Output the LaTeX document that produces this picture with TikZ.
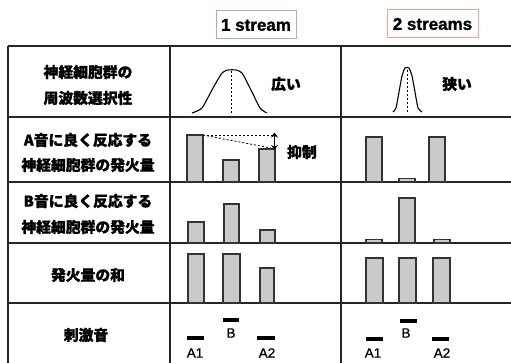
\documentclass[tikz,border=0pt]{standalone}
\usepackage{fontspec}
\setmainfont{Liberation Sans}[BoldFeatures={FakeBold=1.2}]
\newfontfamily\jp{Noto Sans CJK JP}[BoldFeatures={FakeBold=1}]
\newfontfamily\labfont{Liberation Sans}[FakeBold=0.8]
\usetikzlibrary{arrows.meta}
\definecolor{bluebox}{HTML}{8FB3F5}
\definecolor{redbox}{HTML}{F5A08A}
\definecolor{barfill}{HTML}{CACACA}
\definecolor{barline}{HTML}{333333}
\tikzset{
  grid/.style={line width=1.1pt, draw=black!85},
  jtext/.style={font=\jp\bfseries\fontsize{14.8}{16}\selectfont, inner sep=0pt, anchor=center},
  hdr/.style={font=\bfseries\fontsize{17}{19}\selectfont, inner xsep=2pt, inner ysep=3pt, line width=1pt},
  bar/.style={fill=barfill, draw=barline, line width=1.2pt},
  stim/.style={fill=black, draw=none},
  lab/.style={font=\labfont\fontsize{13.5}{14}\selectfont, inner sep=0pt},
  curve/.style={line width=1.1pt, black},
  mid/.style={line width=0.9pt, dash pattern=on 2pt off 2pt},
}
\begin{document}
\begin{tikzpicture}[x=1pt,y=-1pt]
\useasboundingbox (0,0) rectangle (511,363);
\fill[white] (0,0) rectangle (511,363);
% headers
\node[hdr, draw=bluebox, minimum width=80pt, minimum height=28pt] (h1) at (256,25) {1 stream};
\node[hdr, draw=redbox, minimum width=91pt, minimum height=28pt] (h2) at (432.5,24) {2 streams};
% grid
\draw[grid] (8,46) -- (520,46);
\draw[grid] (8,117) -- (520,117);
\draw[grid] (8,182) -- (520,182);
\draw[grid] (8,243) -- (520,243);
\draw[grid] (8,303) -- (520,303);
\draw[grid] (8,46) -- (8,370);
\draw[grid] (170,46) -- (170,370);
\draw[grid] (341,46) -- (341,370);
% row labels
\node[jtext] (r1a) at (88,72) {神経細胞群の};
\node[jtext] (r1b) at (88,98) {周波数選択性};
\node[jtext] (r2a) at (88,140) {A音に良く反応する};
\node[jtext] (r2b) at (88,165) {神経細胞群の発火量};
\node[jtext] (r3a) at (88,201) {B音に良く反応する};
\node[jtext] (r3b) at (88,227) {神経細胞群の発火量};
\node[jtext] (r4) at (88,275) {発火量の和};
\node[jtext] (r5) at (86,335) {刺激音};
% row 1 curves
\draw[curve, line join=round] plot[smooth, tension=0.35] coordinates {(192,113) (202,108) (213,88) (222,73) (228,70) (236,70) (242,73) (250,88) (260,108) (267,113)};
\draw[mid] (231,71) -- (231,113);
\node[jtext] (wide) at (286,84) {広い};
\draw[curve, line join=round] plot[smooth, tension=0.35] coordinates {(393,112) (396,108) (399,92) (402,76) (405,68) (409,68) (412,76) (415,92) (418,108) (422,112)};
\draw[mid] (407.5,70) -- (407.5,113);
\node[jtext] (narrow) at (457,84) {狭い};
% row 2 bars
\draw[bar] (187,182) rectangle (203,135);
\draw[bar] (223,182) rectangle (239,160);
\draw[bar] (259,182) rectangle (275,149);
\coordinate (t1) at (203,135);
\coordinate (t3) at (273,135);
\coordinate (t3b) at (271,148);
\draw[mid, line width=0.8pt] (t1) -- (t3);
\draw[mid, line width=0.8pt] (t1) -- (t3b);
\coordinate (ar1) at (274.5,132.5);
\coordinate (ar2) at (274.5,150);
\draw[line width=1.5pt, {Stealth[length=5pt,width=7pt]}-{Stealth[length=5pt,width=7pt]}] (ar1) -- (ar2);
\node[jtext] (inh) at (302,152) {抑制};
\draw[bar] (366,182) rectangle (382,137);
\draw[bar] (399,182) rectangle (415,178.5);
\draw[bar] (429,182) rectangle (445,137);
% row 3 bars
\draw[bar] (188,243) rectangle (204,222);
\draw[bar] (224,243) rectangle (239,204);
\draw[bar] (260,243) rectangle (275,230);
\draw[bar] (366,243) rectangle (382,239.5);
\draw[bar] (399,243) rectangle (415,198);
\draw[bar] (434,243) rectangle (450,239.5);
% row 4 bars
\draw[bar] (188,303) rectangle (204,254);
\draw[bar] (223,303) rectangle (240,254);
\draw[bar] (260,303) rectangle (274,268);
\draw[bar] (366,303) rectangle (383,258);
\draw[bar] (399,303) rectangle (416,258);
\draw[bar] (433,303) rectangle (450,258);
% row 5 stimuli
\fill[stim] (187,336) rectangle (204,340);
\fill[stim] (223,318) rectangle (239,322);
\fill[stim] (257,336) rectangle (275,340);
\node[lab] (a1l) at (195,353) {A1};
\node[lab] (bl) at (231,333) {B};
\node[lab] (a2l) at (267,353) {A2};
\fill[stim] (366,337) rectangle (383,341);
\fill[stim] (400,319) rectangle (417,323);
\fill[stim] (432,337) rectangle (449,341);
\node[lab] (a1r) at (373,353) {A1};
\node[lab] (br) at (406,333) {B};
\node[lab] (a2r) at (442,353) {A2};
\end{tikzpicture}
\end{document}
